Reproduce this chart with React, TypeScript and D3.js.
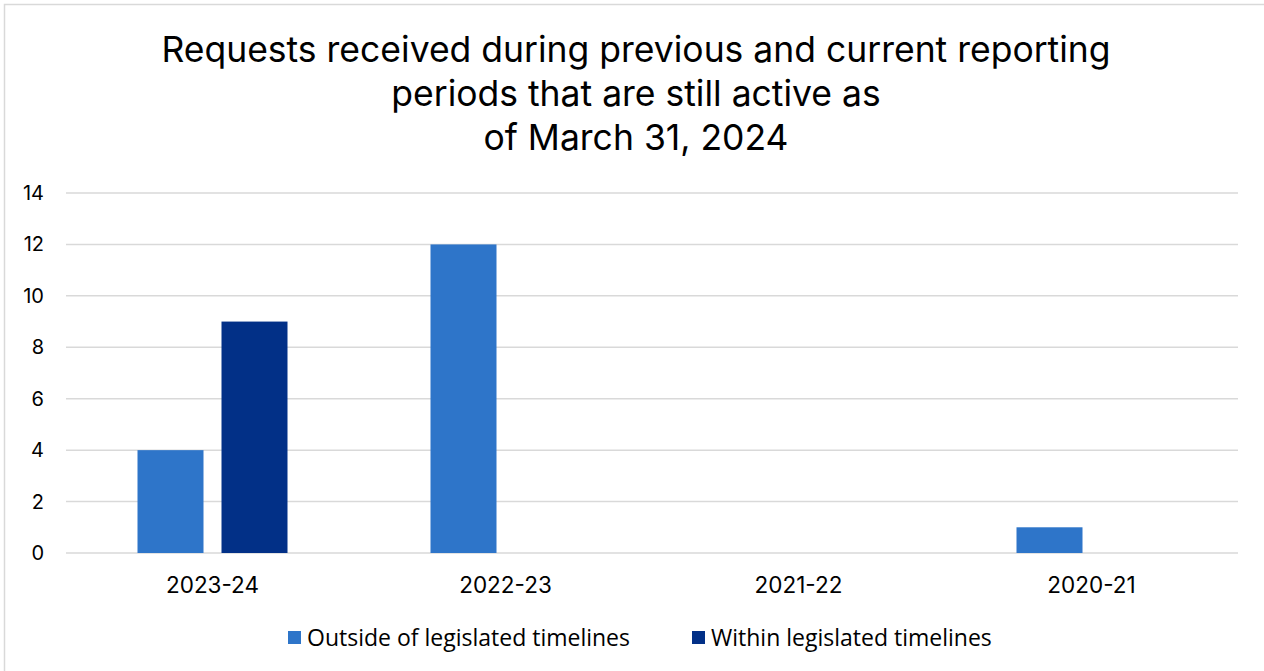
import React from "react";
import * as d3 from "d3";

const categories = ["2023-24", "2022-23", "2021-22", "2020-21"];
const outsideValues = [4, 12, 0, 1];
const withinValues = [9, 0, 0, 0];
const seriesNames = ["Outside of legislated timelines", "Within legislated timelines"];
const yTicks = [0, 2, 4, 6, 8, 10, 12, 14];
const titleLines = [
  "Requests received during previous and current reporting",
  "periods that are still active as",
  "of March 31, 2024",
];

const W = 1264;
const H = 671;
const plot = { left: 66, right: 1238, top: 193, bottom: 553 };
const colors = ["#2E75C9", "#023087"];
const titleFont = "Inter, 'Noto Sans', sans-serif";
const legendFont = "'Open Sans', 'Noto Sans', sans-serif";

export default function App() {
  const x0 = d3.scaleBand<string>().domain(categories).range([plot.left, plot.right]).paddingInner(0).paddingOuter(0);
  const y = d3.scaleLinear().domain([0, 14]).range([plot.bottom, plot.top]);
  const barW = 66;
  const gap = 18;
  const series = [outsideValues, withinValues];

  return (
    <svg width={W} height={H} style={{ position: "absolute", left: 0, top: 0, background: "#fff" }}>
      <rect x={4.5} y={4.5} width={W + 10} height={H + 10} fill="#fff" stroke="#d9d9d9" strokeWidth={1.5} />
      {titleLines.map((t, i) => (
        <text key={i} x={636} y={62 + i * 44} textAnchor="middle" fontFamily={titleFont} fontSize={35.5} fill="#000">
          {t}
        </text>
      ))}
      {yTicks.map((t) => (
        <g key={t}>
          <line x1={plot.left} x2={plot.right} y1={y(t)} y2={y(t)} stroke="#d9d9d9" strokeWidth={1.5} />
          <text x={44} y={y(t) + 7} textAnchor="end" fontFamily={titleFont} fontSize={20} fill="#000">
            {t}
          </text>
        </g>
      ))}
      {categories.map((c, ci) => {
        const cx = (x0(c) as number) + x0.bandwidth() / 2;
        return (
          <g key={c}>
            {series.map((vals, si) => {
              const v = vals[ci];
              if (!v) return null;
              const bx = si === 0 ? cx - gap / 2 - barW : cx + gap / 2;
              return <rect key={si} x={bx} y={y(v)} width={barW} height={y(0) - y(v)} fill={colors[si]} />;
            })}
            <text x={cx} y={593} textAnchor="middle" fontFamily={titleFont} fontSize={22.5} fill="#000">
              {c}
            </text>
          </g>
        );
      })}
      {seriesNames.map((n, i) => {
        const lx = i === 0 ? 288 : 692;
        return (
          <g key={n}>
            <rect x={lx} y={631} width={13} height={13} fill={colors[i]} />
            <text x={lx + 19} y={646} fontFamily={legendFont} fontSize={23} fill="#000">
              {n}
            </text>
          </g>
        );
      })}
    </svg>
  );
}
